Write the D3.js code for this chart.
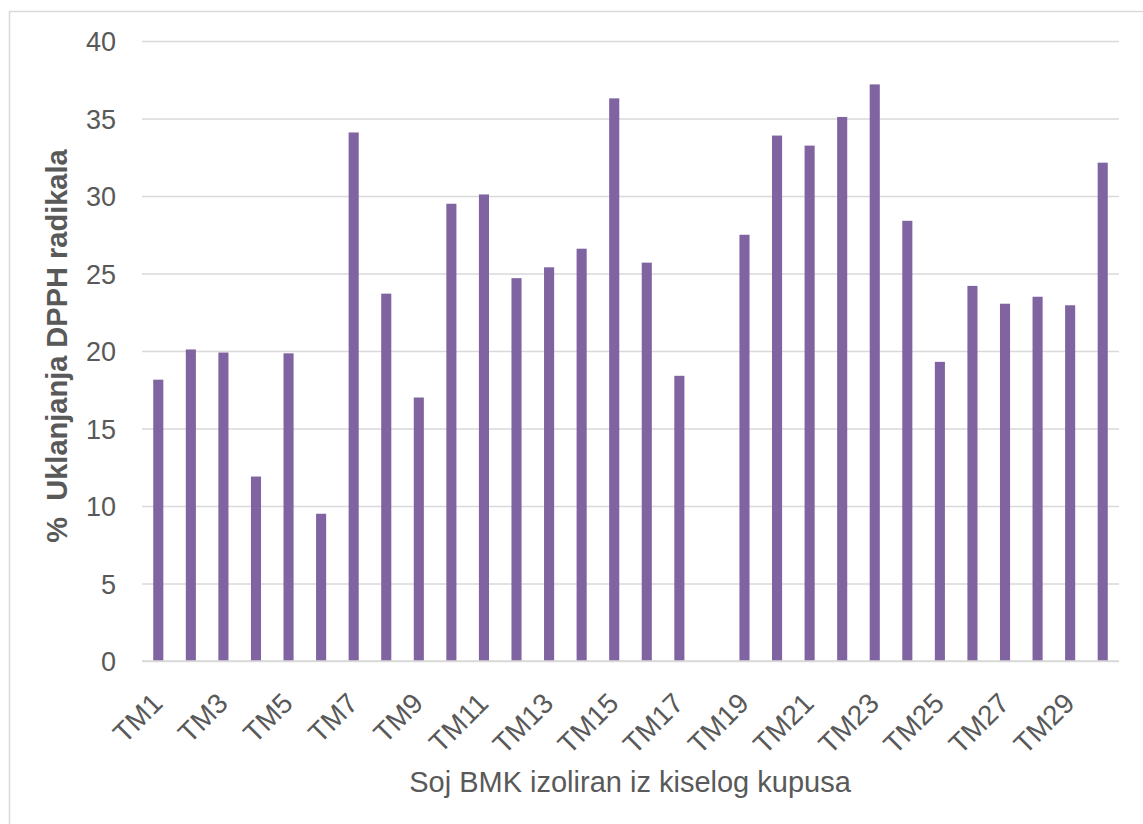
<!DOCTYPE html>
<html>
<head>
<meta charset="utf-8">
<script src="https://cdn.jsdelivr.net/npm/d3@7"></script>
<style>
  html, body { margin: 0; padding: 0; background: #ffffff; }
  svg { display: block; }
  text { font-family: "Liberation Sans", Arial, sans-serif; fill: #595959; }
</style>
</head>
<body>
<svg id="chart" width="1143" height="824"></svg>
<script>
const categories = ["TM1","TM2","TM3","TM4","TM5","TM6","TM7","TM8","TM9","TM10",
  "TM11","TM12","TM13","TM14","TM15","TM16","TM17","TM18","TM19","TM20",
  "TM21","TM22","TM23","TM24","TM25","TM26","TM27","TM28","TM29","TM30"];
const values = [18.15, 20.1, 19.9, 11.9, 19.85, 9.5, 34.1, 23.7, 17.0, 29.5,
  30.1, 24.7, 25.4, 26.6, 36.3, 25.7, 18.4, 0, 27.5, 33.9,
  33.25, 35.1, 37.2, 28.4, 19.3, 24.2, 23.05, 23.5, 22.95, 32.15];
const yTicks = [0, 5, 10, 15, 20, 25, 30, 35, 40];
const xTickLabels = categories.filter((d, i) => i % 2 === 0);
const xTitle = "Soj BMK izoliran iz kiselog kupusa";
const yTitle = "%  Uklanjanja DPPH radikala";

const svg = d3.select("#chart");
const plotLeft = 142, plotRight = 1119, plotTop = 41, plotBottom = 661;

// outer chart border
svg.append("rect")
  .attr("x", 9.5).attr("y", 11.5)
  .attr("width", 1150).attr("height", 830)
  .attr("fill", "none").attr("stroke", "#d9d9d9").attr("stroke-width", 1.5);

const x = d3.scaleBand().domain(categories).range([plotLeft, plotRight])
  .paddingInner(0.69).paddingOuter(0.345);
const y = d3.scaleLinear().domain([0, 40]).range([plotBottom, plotTop]);

// gridlines + y tick labels
const yAxis = d3.axisLeft(y).tickValues(yTicks).tickSize(-(plotRight - plotLeft))
  .tickFormat(d3.format("d"));
const gy = svg.append("g").attr("transform", `translate(${plotLeft},0)`).call(yAxis);
gy.select(".domain").remove();
gy.selectAll(".tick line").attr("stroke", "#d9d9d9").attr("stroke-width", 1.5);
gy.selectAll(".tick text")
  .attr("x", 116 - plotLeft).attr("dy", "0.36em")
  .style("font-size", "27px").attr("fill", "#595959");

// bars
svg.append("g").selectAll("rect").data(categories).join("rect")
  .attr("x", d => x(d))
  .attr("y", (d, i) => y(values[i]))
  .attr("width", x.bandwidth())
  .attr("height", (d, i) => y(0) - y(values[i]))
  .attr("fill", "#8064a2");

// x axis
const xAxis = d3.axisBottom(x).tickValues(xTickLabels).tickSize(0).tickFormat(d => d);
const gx = svg.append("g").attr("transform", `translate(0,${plotBottom})`).call(xAxis);
gx.select(".domain").attr("stroke", "#d9d9d9").attr("stroke-width", 1.5)
  .attr("d", `M${plotLeft},0H${plotRight}`);
gx.selectAll(".tick text")
  .attr("text-anchor", "end")
  .attr("x", 0).attr("y", 0).attr("dy", 0)
  .attr("transform", "translate(6,44) rotate(-45)")
  .style("font-size", "28px").attr("fill", "#595959");

// axis titles
svg.append("text")
  .attr("x", 630).attr("y", 792)
  .attr("text-anchor", "middle")
  .style("font-size", "29px")
  .text(xTitle);

svg.append("text")
  .attr("transform", "translate(67,346) rotate(-90)")
  .attr("text-anchor", "middle")
  .style("font-size", "29px").style("font-weight", "bold")
  .style("white-space", "pre")
  .text(yTitle);
</script>
</body>
</html>
